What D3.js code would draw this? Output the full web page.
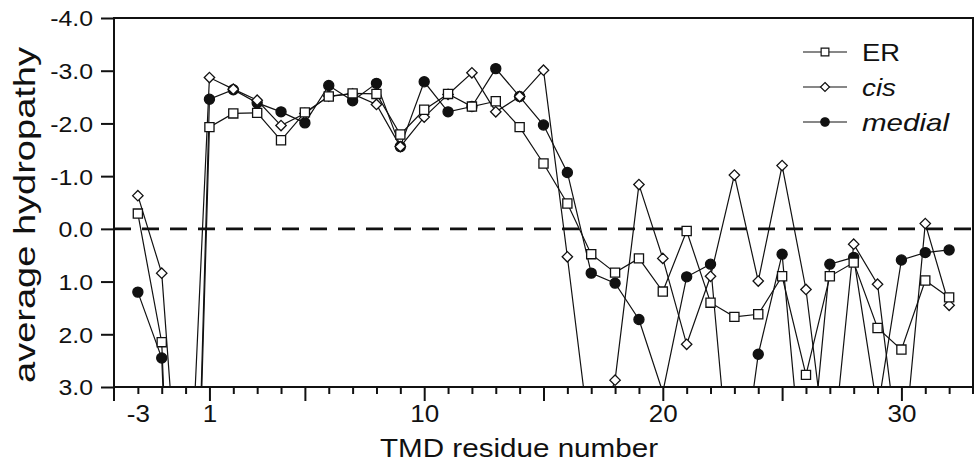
<!DOCTYPE html>
<html>
<head>
<meta charset="utf-8">
<script src="https://cdn.jsdelivr.net/npm/d3@7"></script>
<style>
  body { margin: 0; background: #fff; }
  svg text { font-family: "Liberation Sans", Arial, Helvetica, sans-serif; fill: #111; }
</style>
</head>
<body>
<svg id="chart" width="977" height="464"></svg>
<script>
// residue positions along the TMD (there is no residue 0)
const residues = ["-3","-2","-1","1","2","3","4","5","6","7","8","9","10","11","12","13","14","15","16",
  "17","18","19","20","21","22","23","24","25","26","27","28","29","30","31","32"];

// average hydropathy (values beyond 3.0 run off the plot)
const erValues = [-0.29, 2.15, 13.5, -1.93, -2.19, -2.2, -1.68, -2.21, -2.51, -2.57, -2.56, -1.79, -2.26,
  -2.56, -2.32, -2.42, -1.93, -1.24, -0.48, 0.48, 0.83, 0.56, 1.19, 0.04, 1.40, 1.67, 1.62, 0.9, 2.77,
  0.9, 0.64, 1.88, 2.29, 0.98, 1.3];
const cisValues = [-0.63, 0.84, 7.0, -2.87, -2.65, -2.44, -1.96, -2.19, -2.52, -2.56, -2.36, -1.56, -2.12,
  -2.55, -2.96, -2.22, -2.51, -3.01, 0.53, 4.2, 2.87, -0.84, 0.56, 2.19, 0.9, -1.02, 0.99, -1.2, 1.15,
  4.8, 0.29, 1.05, 4.7, -0.1, 1.45];
const medialValues = [1.2, 2.45, 13.5, -2.46, -2.64, -2.39, -2.22, -2.01, -2.72, -2.43, -2.76, -1.56, -2.79,
  -2.22, -2.32, -3.04, -2.51, -1.97, -1.07, 0.84, 1.03, 1.72, 3.1, 0.91, 0.67, 5.7, 2.38, 0.48, 5.4,
  0.67, 0.54, 3.45, 0.59, 0.45, 0.4];

const yTicks = [-4, -3, -2, -1, 0, 1, 2, 3];
const xLabels = ["-3", "1", "10", "20", "30"];
const xMajor = ["1", "5", "10", "15", "20", "25", "30"];

const series = [
  { name: "medial", values: medialValues, shape: "circle", italic: true, legendWidth: 87 },
  { name: "cis", values: cisValues, shape: "diamond", italic: true, legendWidth: 34 },
  { name: "ER", values: erValues, shape: "square", italic: false, legendWidth: 38 }
];
const legendOrder = ["ER", "cis", "medial"];

const margin = { top: 18, right: 4, bottom: 77, left: 114 };
const svg = d3.select("#chart");
const width = +svg.attr("width") - margin.left - margin.right;
const height = +svg.attr("height") - margin.top - margin.bottom;
const g = svg.append("g").attr("transform", `translate(${margin.left},${margin.top})`);

const x = d3.scalePoint().domain(residues).range([0, width]).padding(1);
const y = d3.scaleLinear().domain([-4, 3]).range([0, height]);

svg.append("defs").append("clipPath").attr("id", "plotClip")
  .append("rect").attr("width", width).attr("height", height);

// stretch horizontal text a little, the original type is wider than Helvetica
function widen(sel, k) {
  sel.each(function() {
    const w = this.getComputedTextLength();
    if (w > 0) d3.select(this).attr("textLength", w * k).attr("lengthAdjust", "spacingAndGlyphs");
  });
}

// y axis
const yAxis = g.append("g")
  .call(d3.axisLeft(y).tickValues(yTicks).tickSize(13).tickPadding(8).tickFormat(d => d.toFixed(1)));
yAxis.select(".domain").remove();
yAxis.selectAll(".tick line").attr("stroke", "#111").attr("stroke-width", 2);
yAxis.selectAll(".tick text").attr("font-size", 22).attr("dy", "0.36em");
widen(yAxis.selectAll(".tick text"), 1.13);

// x axis
const xAxis = g.append("g")
  .attr("transform", `translate(0,${height})`)
  .call(d3.axisBottom(x).tickSize(7).tickPadding(12).tickFormat(d => xLabels.includes(d) ? d : ""));
xAxis.select(".domain").remove();
xAxis.selectAll(".tick line").attr("stroke", "#111").attr("stroke-width", 2)
  .attr("y2", d => xMajor.includes(d) ? 14 : 7);
xAxis.selectAll(".tick text").attr("font-size", 23).attr("dy", "0.71em");
widen(xAxis.selectAll(".tick text"), 1.13);
// long tick at the left corner and short one at the right
xAxis.append("line").attr("x1", 0).attr("x2", 0).attr("y1", 0).attr("y2", 14)
  .attr("stroke", "#111").attr("stroke-width", 2);
xAxis.append("line").attr("x1", width).attr("x2", width).attr("y1", 0).attr("y2", 7)
  .attr("stroke", "#111").attr("stroke-width", 2);

// zero line
g.append("line")
  .attr("x1", 0).attr("x2", width)
  .attr("y1", y(0)).attr("y2", y(0))
  .attr("stroke", "#111").attr("stroke-width", 2.6)
  .attr("stroke-dasharray", "17,11");

const symbolPath = {
  circle: d3.symbol().type(d3.symbolCircle).size(80),
  diamond: s => `M0,${-s}L${s},0L0,${s}L${-s},0Z`,
  square: d3.symbol().type(d3.symbolSquare).size(84)
};
function markerPath(shape, big) {
  if (shape === "diamond") return symbolPath.diamond(big ? 5.2 : 4.5);
  if (shape === "circle") return d3.symbol().type(d3.symbolCircle).size(big ? 80 : 56)();
  return d3.symbol().type(d3.symbolSquare).size(big ? 84 : 60)();
}

const line = d3.line()
  .x((d, i) => x(residues[i]))
  .y(d => y(d));

const plot = g.append("g").attr("clip-path", "url(#plotClip)");

series.forEach(s => {
  plot.append("path")
    .datum(s.values)
    .attr("fill", "none")
    .attr("stroke", "#111")
    .attr("stroke-width", 1.2)
    .attr("d", line);
});
series.forEach(s => {
  plot.selectAll(".pt-" + s.name)
    .data(s.values.map((v, i) => ({ r: residues[i], v })).filter(d => d.v <= 3.0))
    .join("path")
    .attr("class", "pt-" + s.name)
    .attr("transform", d => `translate(${x(d.r)},${y(d.v)})`)
    .attr("d", markerPath(s.shape, true))
    .attr("fill", s.shape === "circle" ? "#111" : "#fff")
    .attr("stroke", "#111")
    .attr("stroke-width", 1.3);
});

// frame
g.append("rect")
  .attr("width", width).attr("height", height)
  .attr("fill", "none").attr("stroke", "#111").attr("stroke-width", 2);

// legend
const legend = g.append("g").attr("transform", `translate(${803 - margin.left},${52 - margin.top})`);
legendOrder.forEach((name, i) => {
  const s = series.find(d => d.name === name);
  const row = legend.append("g").attr("transform", `translate(0,${i * 35})`);
  row.append("line").attr("x1", 0).attr("x2", 44).attr("stroke", "#111").attr("stroke-width", 1.2);
  row.append("path")
    .attr("transform", "translate(22,0)")
    .attr("d", markerPath(s.shape, false))
    .attr("fill", s.shape === "circle" ? "#111" : "#fff")
    .attr("stroke", "#111").attr("stroke-width", 1.2);
  row.append("text")
    .attr("x", 59).attr("y", 8.5)
    .attr("font-size", 24)
    .attr("font-style", s.italic ? "italic" : "normal")
    .attr("textLength", s.legendWidth).attr("lengthAdjust", "spacingAndGlyphs")
    .text(s.name);
});

// axis titles
svg.append("text")
  .attr("x", 519).attr("y", 457)
  .attr("text-anchor", "middle")
  .attr("font-size", 26)
  .attr("textLength", 278).attr("lengthAdjust", "spacingAndGlyphs")
  .text("TMD residue number");

svg.append("text")
  .attr("transform", "translate(35,215) rotate(-90)")
  .attr("text-anchor", "middle")
  .attr("font-size", 30)
  .attr("textLength", 336).attr("lengthAdjust", "spacingAndGlyphs")
  .text("average hydropathy");
</script>
</body>
</html>
